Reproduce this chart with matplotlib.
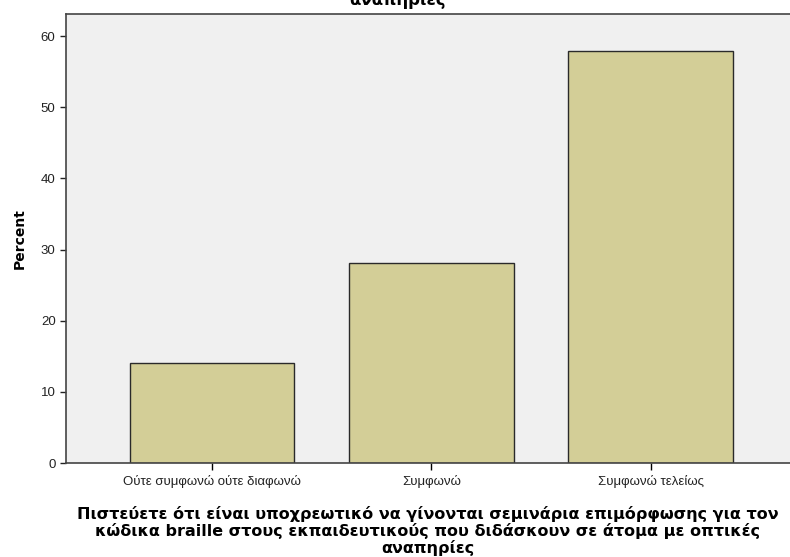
import numpy as np
import matplotlib
matplotlib.use('Agg')
import matplotlib.pyplot as plt

plt.rcParams['font.family'] = ['Liberation Sans', 'DejaVu Sans']

# Data
categories = ['Ούτε συμφωνώ ούτε διαφωνώ', 'Συμφωνώ', 'Συμφωνώ τελείως']
percent = [14.0, 28.1, 57.9]
yticks = [0, 10, 20, 30, 40, 50, 60]
xlabel = ('Πιστεύετε ότι είναι υποχρεωτικό να γίνονται σεμινάρια επιμόρφωσης για τον\n'
          'κώδικα braille στους εκπαιδευτικούς που διδάσκουν σε άτομα με οπτικές\n'
          'αναπηρίες')

fig = plt.figure(figsize=(7.9, 5.57), dpi=100)
ax = fig.add_axes([66 / 790, 1 - 463 / 557, 724 / 790, 449 / 557])
ax.set_facecolor('#F0F0F0')

x = np.arange(len(categories))
ax.bar(x, percent, width=0.75, color='#D3CE97', edgecolor='#2a2a2a', linewidth=1.0, zorder=2)

ax.set_xlim(-0.665, 2.635)
ax.set_ylim(0, 63.1)
ax.set_yticks(yticks)
ax.set_xticks(x)
ax.set_xticklabels(categories, fontsize=9.5, color='#222222')
ax.tick_params(axis='y', labelsize=9.5, colors='#222222', length=4, width=1)
ax.tick_params(axis='x', length=5, width=1, pad=4)

for side in ['top', 'left', 'bottom']:
    ax.spines[side].set_color('#444444')
    ax.spines[side].set_linewidth(1.2)
ax.spines['right'].set_visible(False)

ax.set_ylabel('Percent', fontsize=10, fontweight='bold', family='DejaVu Sans', labelpad=10)
ax.set_xlabel(xlabel, fontsize=11.5, fontweight='bold', family='DejaVu Sans',
              linespacing=1.08, labelpad=12.5)

# cut-off title at the top of the image
fig.text(398 / 790, 1.0 - 5 / 557, 'αναπηρίες', ha='center', va='baseline',
         fontsize=12, fontweight='bold', family='DejaVu Sans')

fig.savefig('out.png', dpi=100)
